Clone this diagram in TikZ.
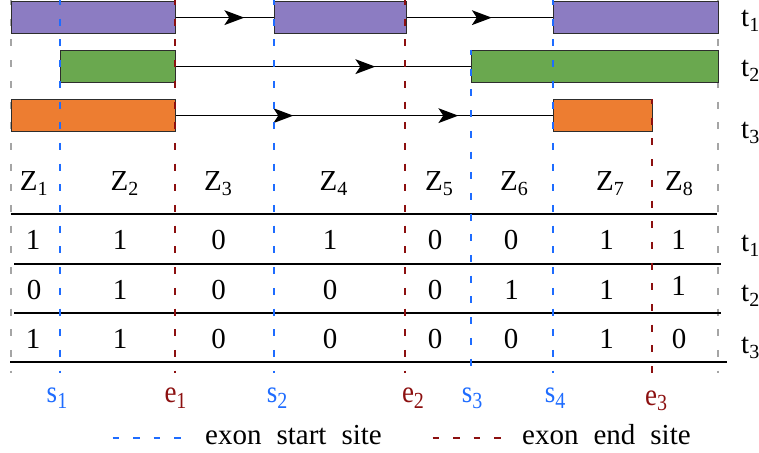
\documentclass[tikz,border=0pt]{standalone}
\usepackage{fontspec}
\setmainfont{Liberation Serif}
\usetikzlibrary{arrows.meta,decorations.markings}
\definecolor{purp}{RGB}{140,124,194}
\definecolor{grn}{RGB}{106,168,79}
\definecolor{orng}{RGB}{237,125,49}
\definecolor{sblue}{RGB}{30,108,255}
\definecolor{ered}{RGB}{140,16,16}
\definecolor{gry}{RGB}{165,165,165}
\definecolor{edgec}{RGB}{45,45,45}
\newcommand{\sbx}[1]{\raisebox{-5pt}{\fontsize{20}{20}\selectfont #1}}
\newcommand{\tallsite}[1]{\scalebox{1}[1.15]{#1}}
\newcommand{\wsp}{\hspace{15pt}}
\begin{document}
\begin{tikzpicture}[x=1pt,y=-1pt,
  exonbar/.style={draw=edgec, line width=1.3pt, inner sep=0pt, anchor=north west, minimum height=32pt},
  vstart/.style={sblue, line width=2pt, dash pattern=on 7pt off 13.7pt, dash phase=2pt},
  vend/.style={ered, line width=2pt, dash pattern=on 7pt off 13.7pt, dash phase=2pt},
  vgray/.style={gry, line width=2pt, dash pattern=on 7pt off 13.7pt, dash phase=2pt},
  intron/.style={black, line width=1.5pt},
  headat/.style={postaction={decorate}, decoration={markings,
     mark=at position #1 with {\fill[black] (-20pt,-7.5pt) -- (0pt,0pt) -- (-20pt,7.5pt) -- (-15pt,0pt) -- cycle;}}},
  arrowone/.style={headat=#1},
  arrowtwo/.style 2 args={postaction={decorate}, decoration={markings,
     mark=at position #1 with {\fill[black] (-20pt,-7.5pt) -- (0pt,0pt) -- (-20pt,7.5pt) -- (-15pt,0pt) -- cycle;},
     mark=at position #2 with {\fill[black] (-20pt,-7.5pt) -- (0pt,0pt) -- (-20pt,7.5pt) -- (-15pt,0pt) -- cycle;}}},
  rule/.style={black, line width=1.5pt},
  lbl/.style={font=\fontsize{29}{30}\selectfont, inner sep=0pt, anchor=base},
  rlbl/.style={font=\fontsize{29}{30}\selectfont, inner sep=0pt, anchor=base west},
  slbl/.style={font=\fontsize{27}{30}\selectfont, inner sep=0pt, anchor=base, text=sblue},
  elbl/.style={font=\fontsize{27}{30}\selectfont, inner sep=0pt, anchor=base, text=ered},
  leg/.style={font=\fontsize{29}{30}\selectfont, inner sep=0pt, anchor=base west}
]
\useasboundingbox (0,0) rectangle (759,452);

% gray boundary lines (behind)
\coordinate (gLt) at (10.5,0);   \coordinate (gLb) at (10.5,373);
\coordinate (gRt) at (717.5,0);  \coordinate (gRb) at (717.5,373);
\draw[vgray] (gLt) -- (gLb);
\draw[vgray] (gRt) -- (gRb);

% exon bars
\node[exonbar, fill=purp, minimum width=164.5pt] (p1) at (10.5,1) {};
\node[exonbar, fill=purp, minimum width=132pt]   (p2) at (273.5,1) {};
\node[exonbar, fill=purp, minimum width=164.5pt] (p3) at (553,1) {};
\node[exonbar, fill=grn, minimum width=115pt]    (g1) at (60,50) {};
\node[exonbar, fill=grn, minimum width=246.5pt]  (g2) at (471,50) {};
\node[exonbar, fill=orng, minimum width=164.5pt] (o1) at (10.5,99) {};
\node[exonbar, fill=orng, minimum width=99pt]    (o2) at (553,99) {};

% introns
\draw[intron, arrowone=68pt] (p1.east) -- (p2.west);
\draw[intron, arrowone=85pt] (p2.east) -- (p3.west);
\draw[intron, arrowone=199pt] (g1.east) -- (g2.west);
\draw[intron, arrowtwo={117pt}{282pt}] (o1.east) -- (o2.west);

% transcript labels
\node[rlbl] (lt1) at (741,27) {t\sbx{1}};
\node[rlbl] (lt2) at (741,76) {t\sbx{2}};
\node[rlbl] (lt3) at (741,138) {t\sbx{3}};

% table rules
\draw[rule] (10.5,214) -- (717,214);
\draw[rule] (14,264) -- (721,264);
\draw[rule] (14,313) -- (721,313);
\draw[rule] (10,362) -- (727,362);

% Z header
\node[lbl] (z1) at (33.7,190) {Z\sbx{1}};
\node[lbl] (z2) at (124.5,190) {Z\sbx{2}};
\node[lbl] (z3) at (218,190) {Z\sbx{3}};
\node[lbl] (z4) at (333.5,190) {Z\sbx{4}};
\node[lbl] (z5) at (439,190) {Z\sbx{5}};
\node[lbl] (z6) at (514,190) {Z\sbx{6}};
\node[lbl] (z7) at (610,190) {Z\sbx{7}};
\node[lbl] (z8) at (679,190) {Z\sbx{8}};

% row 1
\node[lbl] (a1) at (33,249) {1};
\node[lbl] (a2) at (120,249) {1};
\node[lbl] (a3) at (218.5,249) {0};
\node[lbl] (a4) at (330,249) {1};
\node[lbl] (a5) at (435,249) {0};
\node[lbl] (a6) at (511,249) {0};
\node[lbl] (a7) at (606.7,249) {1};
\node[lbl] (a8) at (678.5,249) {1};
% row 2
\node[lbl] (b1) at (34,299) {0};
\node[lbl] (b2) at (120,299) {1};
\node[lbl] (b3) at (218.5,299) {0};
\node[lbl] (b4) at (330,299) {0};
\node[lbl] (b5) at (435,299) {0};
\node[lbl] (b6) at (511.7,299) {1};
\node[lbl] (b7) at (606.7,299) {1};
\node[lbl] (b8) at (678.5,295) {1};
% row 3
\node[lbl] (c1) at (33,348) {1};
\node[lbl] (c2) at (120,348) {1};
\node[lbl] (c3) at (218.5,348) {0};
\node[lbl] (c4) at (330,348) {0};
\node[lbl] (c5) at (435,348) {0};
\node[lbl] (c6) at (511,348) {0};
\node[lbl] (c7) at (606.7,348) {1};
\node[lbl] (c8) at (679,348) {0};

\node[rlbl] (rt1) at (741,251.5) {t\sbx{1}};
\node[rlbl] (rt2) at (741,301.5) {t\sbx{2}};
\node[rlbl] (rt3) at (741,353) {t\sbx{3}};

% site lines (on top)
\coordinate (s1t) at (60,0);    \coordinate (s1b) at (60,373);
\coordinate (e1t) at (175,0);   \coordinate (e1b) at (175,373);
\coordinate (s2t) at (273.5,0); \coordinate (s2b) at (273.5,373);
\coordinate (e2t) at (405,0);   \coordinate (e2b) at (405,373);
\coordinate (s3t) at (471,50);  \coordinate (s3b) at (471,373);
\coordinate (s4t) at (553,0);   \coordinate (s4b) at (553,373);
\coordinate (e3t) at (652,99);  \coordinate (e3b) at (652,378);
\draw[vstart] (s1t) -- (s1b);
\draw[vend]   (e1t) -- (e1b);
\draw[vstart] (s2t) -- (s2b);
\draw[vend]   (e2t) -- (e2b);
\draw[vstart] (s3t) -- (s3b);
\draw[vstart] (s4t) -- (s4b);
\draw[vend]   (e3t) -- (e3b);

% site labels
\node[slbl] (ls1) at (57,402.7) {\tallsite{s\sbx{1}}};
\node[elbl] (le1) at (175.5,402.7) {\tallsite{e\sbx{1}}};
\node[slbl] (ls2) at (277,402.7) {\tallsite{s\sbx{2}}};
\node[elbl] (le2) at (413,402.7) {\tallsite{e\sbx{2}}};
\node[slbl] (ls3) at (472,402.7) {\tallsite{s\sbx{3}}};
\node[slbl] (ls4) at (555,402.7) {\tallsite{s\sbx{4}}};
\node[elbl] (le3) at (656,405) {\tallsite{e\sbx{3}}};

% legend
\coordinate (lbA) at (112.7,438.3); \coordinate (lbB) at (181,438.3);
\coordinate (lrA) at (432.7,438.3); \coordinate (lrB) at (502,438.3);
\draw[vstart, dash pattern=on 6.7pt off 13.8pt, dash phase=0pt] (lbA) -- (lbB);
\draw[vend, dash pattern=on 6.7pt off 13.8pt, dash phase=0pt] (lrA) -- (lrB);
\node[leg] (legs) at (205,444.3) {exon\wsp start\wsp site};
\node[leg] (lege) at (522,444.3) {exon\wsp end\wsp site};
\end{tikzpicture}
\end{document}
